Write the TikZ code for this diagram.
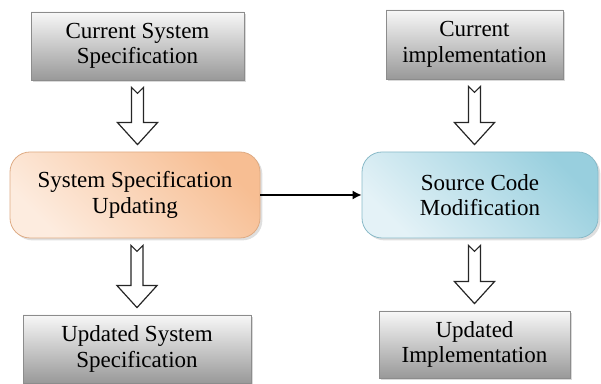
\documentclass[tikz,border=0pt]{standalone}
\usepackage{fontspec}
\setmainfont{Liberation Serif}
\usetikzlibrary{shadows,calc,arrows.meta}

\definecolor{peachlight}{HTML}{FDECDF}
\definecolor{peachdark}{HTML}{F7BE93}
\definecolor{skylight}{HTML}{E4F2F7}
\definecolor{skydark}{HTML}{98CFDE}

% hollow down arrow: #1 gives x, from below #2 to above #3
\newcommand{\hollowdown}[3]{%
\draw[hollow] let \p1=(#1.center), \p2=(#2.south), \p3=(#3.north) in
  (\x1-3pt,\y2-3.5pt) -- (\x1,\y2-6.5pt) -- (\x1+3pt,\y2-3.5pt)
  -- (\x1+3pt,\y3+14.5pt) -- (\x1+10pt,\y3+14.5pt) -- (\x1,\y3+3.5pt)
  -- (\x1-10pt,\y3+14.5pt) -- (\x1-3pt,\y3+14.5pt) -- cycle;}

\begin{document}
\begin{tikzpicture}[x=0.5pt,y=-0.5pt,
font=\fontsize{11.5}{12.8}\selectfont,
docbox/.style={draw=black!45,rectangle,top color=black!3,bottom color=black!40,
    align=center,inner sep=0pt,
    drop shadow={shadow xshift=1.2pt,shadow yshift=-1.2pt,opacity=0.3}},
taskbox/.style={rectangle,rounded corners=10pt,align=center,inner sep=0pt,
    minimum height=43pt,
    drop shadow={shadow xshift=1.2pt,shadow yshift=-1.2pt,opacity=0.25}},
hollow/.style={draw=black!85,fill=white,line width=0.6pt,line join=miter}]
\useasboundingbox (0,0) rectangle (601,384);

\node (cur) [docbox,minimum width=106.5pt,minimum height=34pt]
    at (137.5,46) {Current System\\Specification};
\node (impl) [docbox,minimum width=88.5pt,minimum height=34.5pt]
    at (474.5,44.5) {Current\\implementation};

\node (sysupd) [taskbox,minimum width=125pt,draw=peachdark!90!black,
    top color=peachdark,bottom color=peachlight,shading angle=-45]
    at (135,195) {System Specification\\Updating};
\node (srcmod) [taskbox,minimum width=118pt,draw=skydark!90!black,
    top color=skydark,bottom color=skylight,shading angle=-45]
    at (480,195) {Source Code\\Modification};

\node (updspec) [docbox,minimum width=114pt,minimum height=34pt]
    at (137,349) {Updated System\\Specification};
\node (updimpl) [docbox,minimum width=95.5pt,minimum height=33.5pt]
    at (474.5,344.5) {Updated\\Implementation};

\hollowdown{cur}{cur}{sysupd}
\hollowdown{impl}{impl}{srcmod}
\hollowdown{updspec}{sysupd}{updspec}
\hollowdown{updimpl}{srcmod}{updimpl}

\draw[-{Latex[length=4.5pt,width=4.5pt]},line width=0.7pt] (sysupd) -- (srcmod);
\end{tikzpicture}
\end{document}
